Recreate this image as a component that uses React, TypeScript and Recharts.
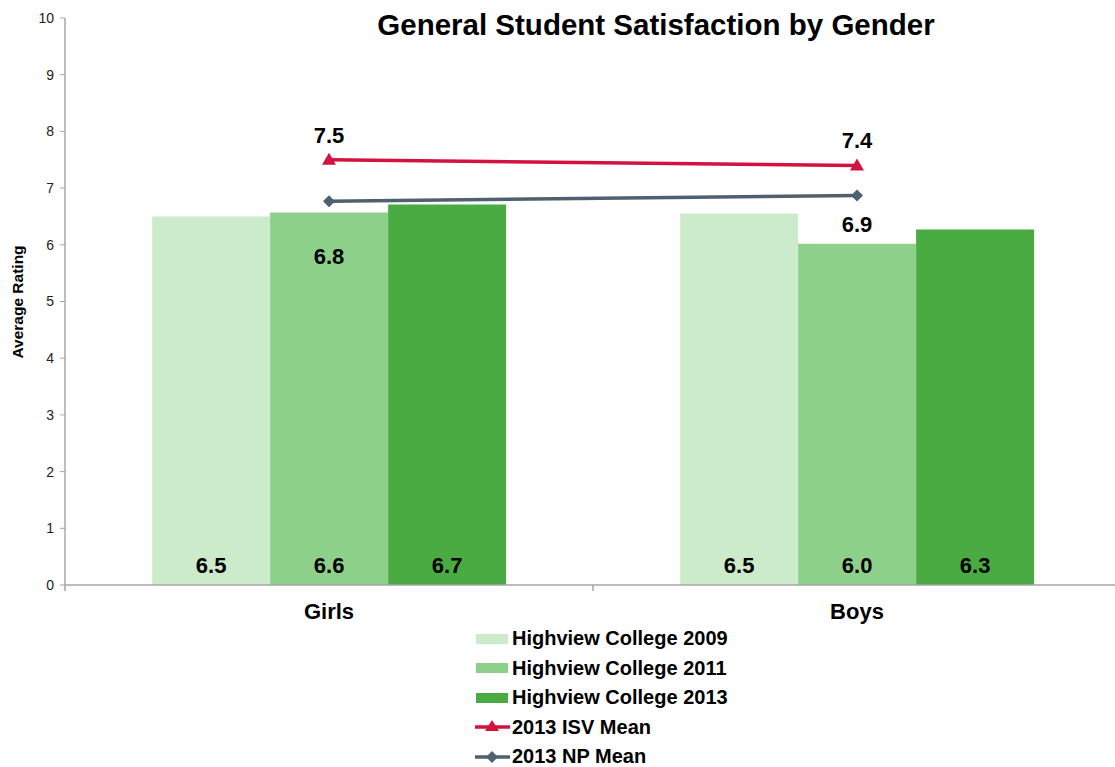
import { BarChart, Bar, Line, XAxis, YAxis, LabelList } from "recharts";

const categories = ["Girls", "Boys"];
const college2009 = [6.5, 6.55];
const college2011 = [6.57, 6.02];
const college2013 = [6.71, 6.27];
const isvMean = [7.5, 7.4];
const npMean = [6.77, 6.87];
const barLabels2009 = ["6.5", "6.5"];
const barLabels2011 = ["6.6", "6.0"];
const barLabels2013 = ["6.7", "6.3"];
const isvLabels = ["7.5", "7.4"];
const npLabels = ["6.8", "6.9"];
const yTicks = [0, 1, 2, 3, 4, 5, 6, 7, 8, 9, 10];

const FONT = "'Liberation Sans', Arial, sans-serif";
const C2009 = "#CCEBCA";
const C2011 = "#8DD08A";
const C2013 = "#4AAB42";
const RED = "#D3123F";
const SLATE = "#4F6170";
const AXIS = "#A6A6A6";

// NP labels sit at different depths below their points in the original
const npLabelDrop = [63, 37];

const data = categories.map((name, i) => ({
  name,
  c2009: college2009[i],
  c2011: college2011[i],
  c2013: college2013[i],
  isv: isvMean[i],
  np: npMean[i],
}));

const labelStyle = { fontFamily: FONT, fontWeight: 700, fontSize: 22, fill: "#000" };

function barLabel(texts: string[]) {
  return (props: any) => {
    const { x, y, width, height, index } = props;
    return (
      <text x={x + width / 2} y={y + height - 12} textAnchor="middle" style={labelStyle}>
        {texts[index]}
      </text>
    );
  };
}

function isvLabel(props: any) {
  const { x, y, index } = props;
  return (
    <text x={x} y={y - 17} textAnchor="middle" style={labelStyle}>
      {isvLabels[index]}
    </text>
  );
}

function npLabel(props: any) {
  const { x, y, index } = props;
  return (
    <text x={x} y={y + npLabelDrop[index]} textAnchor="middle" style={labelStyle}>
      {npLabels[index]}
    </text>
  );
}

// category label plus tick marks on the category boundaries (Excel style)
function CategoryTick(props: any) {
  const { x, y, payload, index, visibleTicksCount } = props;
  const half = payload.offset || 0;
  const axisY = y - 18;
  const isLast = index === visibleTicksCount - 1;
  return (
    <g>
      <line x1={x - half} y1={axisY} x2={x - half} y2={axisY + 6} stroke={AXIS} strokeWidth={1.5} />
      {isLast && <line x1={x + half} y1={axisY} x2={x + half} y2={axisY + 6} stroke={AXIS} strokeWidth={1.5} />}
      <text x={x} y={y} dy="0.71em" textAnchor="middle" style={labelStyle}>
        {payload.value}
      </text>
    </g>
  );
}

function Triangle(props: any) {
  const { cx, cy } = props;
  if (cx == null || cy == null) return null;
  return <path d={`M${cx},${cy - 7} L${cx + 7},${cy + 5} L${cx - 7},${cy + 5} Z`} fill={RED} />;
}

function Diamond(props: any) {
  const { cx, cy } = props;
  if (cx == null || cy == null) return null;
  return <path d={`M${cx},${cy - 6} L${cx + 6},${cy} L${cx},${cy + 6} L${cx - 6},${cy} Z`} fill={SLATE} />;
}

const legendItems = [
  { label: "Highview College 2009", kind: "box", color: C2009 },
  { label: "Highview College 2011", kind: "box", color: C2011 },
  { label: "Highview College 2013", kind: "box", color: C2013 },
  { label: "2013 ISV Mean", kind: "tri", color: RED },
  { label: "2013 NP Mean", kind: "dia", color: SLATE },
];

function LegendSwatch({ kind, color }: { kind: string; color: string }) {
  return (
    <svg width={36} height={20} style={{ display: "block" }}>
      {kind === "box" && <rect x={1} y={5} width={32} height={10} fill={color} />}
      {kind !== "box" && <line x1={0} y1={10} x2={35} y2={10} stroke={color} strokeWidth={3.5} />}
      {kind === "tri" && <path d="M17,3 L24,14 L10,14 Z" fill={color} />}
      {kind === "dia" && <path d="M17,4 L23,10 L17,16 L11,10 Z" fill={color} />}
    </svg>
  );
}

export default function App() {
  return (
    <div
      style={{
        position: "fixed",
        left: 0,
        top: 0,
        width: 1115,
        height: 767,
        overflow: "hidden",
        background: "#fff",
        fontFamily: FONT,
      }}
    >
      <div
        style={{
          position: "absolute",
          left: 0,
          top: 8,
          width: 1312,
          textAlign: "center",
          fontSize: 29.5,
          fontWeight: 700,
          color: "#000",
        }}
      >
        General Student Satisfaction by Gender
      </div>
      <div
        style={{
          position: "absolute",
          left: 18,
          top: 302,
          transform: "translate(-50%, -50%) rotate(-90deg)",
          fontSize: 15.5,
          fontWeight: 700,
          whiteSpace: "nowrap",
          color: "#000",
        }}
      >
        Average Rating
      </div>

      <BarChart
        width={1130}
        height={767}
        data={data}
        margin={{ top: 18, right: 9, bottom: 142, left: 15 }}
        barCategoryGap="16.5%"
        barGap={0}
      >
        <XAxis
          dataKey="name"
          axisLine={{ stroke: AXIS, strokeWidth: 1.5 }}
          tickLine={false}
          tickSize={6}
          tickMargin={12}
          tick={<CategoryTick />}
          height={40}
        />
        <YAxis
          domain={[0, 10]}
          ticks={yTicks}
          width={50}
          axisLine={{ stroke: AXIS, strokeWidth: 1.5 }}
          tickLine={{ stroke: AXIS }}
          tickSize={5}
          tickMargin={6}
          tick={{ fontFamily: FONT, fontSize: 14, fill: "#222" }}
        />
        <Bar dataKey="c2009" fill={C2009} isAnimationActive={false}>
          <LabelList dataKey="c2009" content={barLabel(barLabels2009)} />
        </Bar>
        <Bar dataKey="c2011" fill={C2011} isAnimationActive={false}>
          <LabelList dataKey="c2011" content={barLabel(barLabels2011)} />
        </Bar>
        <Bar dataKey="c2013" fill={C2013} isAnimationActive={false}>
          <LabelList dataKey="c2013" content={barLabel(barLabels2013)} />
        </Bar>
        <Line
          dataKey="isv"
          stroke={RED}
          strokeWidth={3.5}
          dot={<Triangle />}
          activeDot={false}
          isAnimationActive={false}
        >
          <LabelList dataKey="isv" content={isvLabel} />
        </Line>
        <Line
          dataKey="np"
          stroke={SLATE}
          strokeWidth={3.5}
          dot={<Diamond />}
          activeDot={false}
          isAnimationActive={false}
        >
          <LabelList dataKey="np" content={npLabel} />
        </Line>
      </BarChart>

      <div style={{ position: "absolute", left: 475, top: 624 }}>
        {legendItems.map((item) => (
          <div
            key={item.label}
            style={{ display: "flex", alignItems: "center", height: 29.5, fontSize: 20, fontWeight: 700, color: "#000" }}
          >
            <LegendSwatch kind={item.kind} color={item.color} />
            <span style={{ marginLeft: 1 }}>{item.label}</span>
          </div>
        ))}
      </div>
    </div>
  );
}
